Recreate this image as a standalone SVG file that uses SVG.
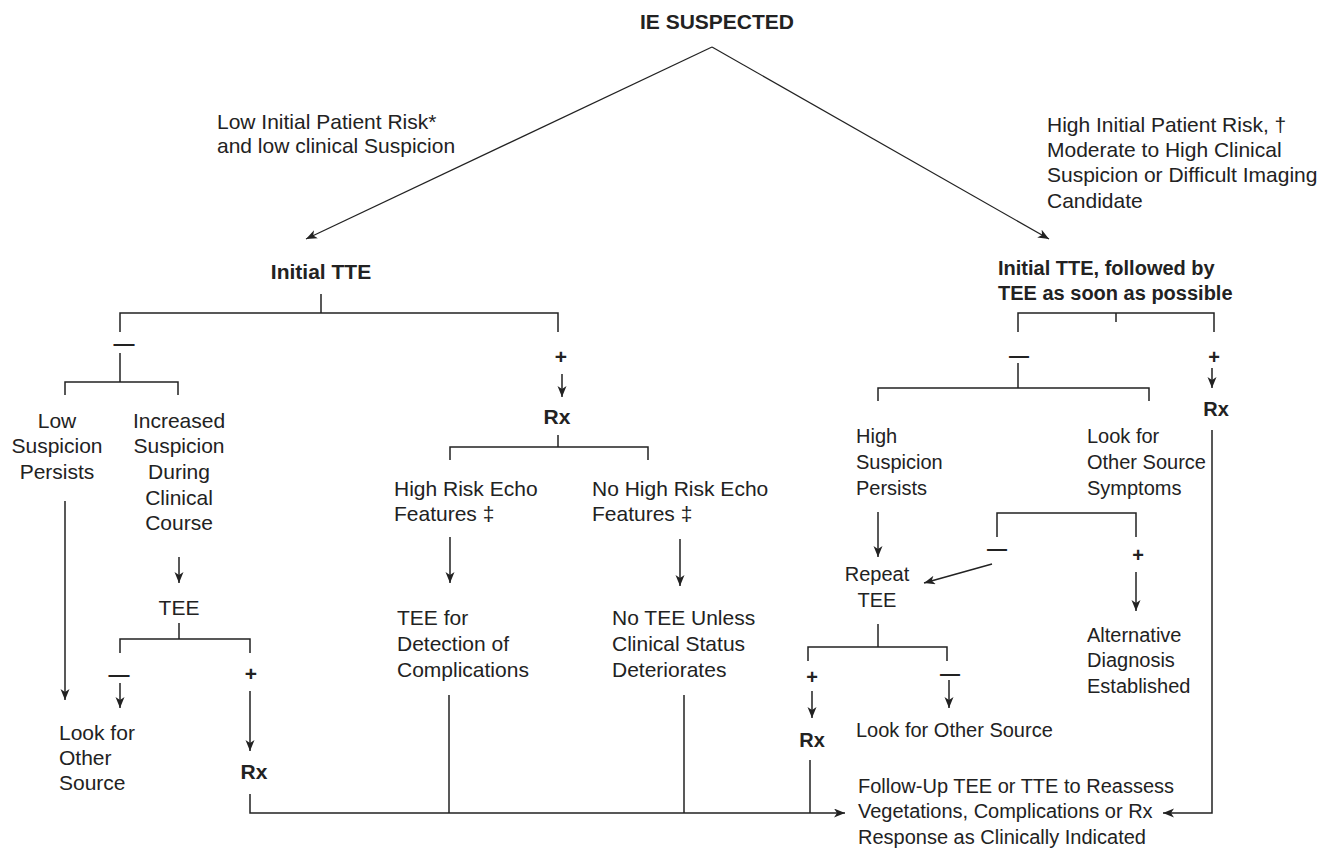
<svg xmlns="http://www.w3.org/2000/svg" width="1333" height="850" viewBox="0 0 1333 850">
  <defs>
    <marker id="arrow" markerUnits="userSpaceOnUse" markerWidth="12" markerHeight="10" refX="11" refY="4.5" orient="auto">
      <path d="M0,0 L11,4.5 L0,9 L3,4.5 Z" fill="#222"/>
    </marker>
    <style>
      text { font-family: "Liberation Sans", Arial, Helvetica, sans-serif; fill: #222; }
      .l { font-size: 21px; }
      .r { font-size: 20px; }
      .b { font-weight: bold; }
      .m { text-anchor: middle; }
      .sign { font-weight: bold; text-anchor: middle; }
      .conn path { fill: none; stroke: #222; stroke-width: 1.5; }
      .conn path.arr { marker-end: url(#arrow); }
      .conn path.thin { stroke-width: 1.2; }
    </style>
  </defs>

  <rect width="1333" height="850" fill="#fff"/>

  <!-- connectors -->
  <g id="connectors" class="conn">
    <path class="arr thin" d="M712,47 L306,239"/>
    <path class="arr thin" d="M712,47 L1049,239"/>

    <!-- left branch: initial TTE -->
    <path d="M321,294 V313"/>
    <path d="M120,332 V313 H558 V332"/>
    <path d="M120,353 V382"/>
    <path d="M65,395 V382 H178 V395"/>
    <path class="arr" d="M65,501 V700"/>
    <path class="arr" d="M179,557 V583"/>
    <path d="M179,623 V639"/>
    <path d="M120,653 V639 H250 V653"/>
    <path class="arr" d="M120,683 V708"/>
    <path class="arr" d="M250,691 V751"/>
    <path class="arr" d="M250,794 V813 H845"/>

    <!-- middle branch: positive TTE -->
    <path class="arr" d="M562,374 V397"/>
    <path d="M558,435 V447"/>
    <path d="M450,460 V447 H648 V460"/>
    <path class="arr" d="M450,537 V583"/>
    <path class="arr" d="M680,539 V586"/>
    <path d="M449,695 V813"/>
    <path d="M684,695 V813"/>

    <!-- right branch: TTE then TEE -->
    <path d="M1018,332 V313 H1214 V332"/>
    <path d="M1116,313 V322"/>
    <path d="M1018,363 V388"/>
    <path d="M878,401 V388 H1149 V401"/>
    <path class="arr" d="M1212,368 V388"/>
    <path class="arr" d="M1212,430 V813 H1163"/>
    <path class="arr" d="M878,512 V557"/>
    <path d="M997,537 V513 H1136 V537"/>
    <path class="arr" d="M992,564 L924,583"/>
    <path class="arr" d="M1136,572 V611"/>
    <path d="M878,624 V647"/>
    <path d="M808,661 V647 H947 V661"/>
    <path class="arr" d="M812,691 V718"/>
    <path class="arr" d="M949,680 V708"/>
    <path d="M810,760 V813"/>
  </g>

  <!-- nodes -->
  <g id="ie-suspected"><text class="l b m" x="717" y="29">IE SUSPECTED</text></g>

  <g id="low-risk-label">
    <text class="l" x="217" y="129">Low Initial Patient Risk*</text>
    <text class="l" x="217" y="153">and low clinical Suspicion</text>
  </g>

  <g id="high-risk-label">
    <text class="l" x="1047" y="132">High Initial Patient Risk, †</text>
    <text class="l" x="1047" y="157">Moderate to High Clinical</text>
    <text class="l" x="1047" y="182">Suspicion or Difficult Imaging</text>
    <text class="l" x="1047" y="208">Candidate</text>
  </g>

  <g id="initial-tte"><text class="l b m" x="321" y="279">Initial TTE</text></g>

  <g id="initial-tte-tee">
    <text class="r b" x="998" y="275">Initial TTE, followed by</text>
    <text class="r b" x="998" y="300">TEE as soon as possible</text>
  </g>

  <!-- left branch -->
  <g id="tte-neg"><text class="l sign" x="124" y="350">—</text></g>

  <g id="low-suspicion">
    <text class="l m" x="57" y="428">Low</text>
    <text class="l m" x="57" y="453">Suspicion</text>
    <text class="l m" x="57" y="479">Persists</text>
  </g>

  <g id="increased-suspicion">
    <text class="l m" x="179" y="428">Increased</text>
    <text class="l m" x="179" y="453">Suspicion</text>
    <text class="l m" x="179" y="479">During</text>
    <text class="l m" x="179" y="505">Clinical</text>
    <text class="l m" x="179" y="530">Course</text>
  </g>

  <g id="tee-left"><text class="l m" x="179" y="615">TEE</text></g>

  <g id="tee-left-neg"><text class="l sign" x="119" y="681">—</text></g>
  <g id="tee-left-pos"><text class="l sign" x="251" y="681">+</text></g>

  <g id="look-other-left">
    <text class="l" x="59" y="740">Look for</text>
    <text class="l" x="59" y="765">Other</text>
    <text class="l" x="59" y="790">Source</text>
  </g>

  <g id="rx-left"><text class="l b m" x="254" y="779">Rx</text></g>

  <!-- middle branch -->
  <g id="tte-pos"><text class="l sign" x="561" y="364">+</text></g>
  <g id="rx-mid"><text class="l b m" x="557" y="424">Rx</text></g>

  <g id="high-risk-echo">
    <text class="l" x="394" y="496">High Risk Echo</text>
    <text class="l" x="394" y="521">Features ‡</text>
  </g>

  <g id="no-high-risk-echo">
    <text class="l" x="592" y="496">No High Risk Echo</text>
    <text class="l" x="592" y="521">Features ‡</text>
  </g>

  <g id="tee-complications">
    <text class="l" x="397" y="625">TEE for</text>
    <text class="l" x="397" y="651">Detection of</text>
    <text class="l" x="397" y="677">Complications</text>
  </g>

  <g id="no-tee">
    <text class="l" x="612" y="625">No TEE Unless</text>
    <text class="l" x="612" y="651">Clinical Status</text>
    <text class="l" x="612" y="677">Deteriorates</text>
  </g>

  <!-- right branch -->
  <g id="tee-neg"><text class="r sign" x="1019" y="362">—</text></g>
  <g id="tee-pos"><text class="r sign" x="1214" y="364">+</text></g>
  <g id="rx-right"><text class="r b m" x="1216" y="416">Rx</text></g>

  <g id="high-suspicion">
    <text class="r" x="856" y="443">High</text>
    <text class="r" x="856" y="469">Suspicion</text>
    <text class="r" x="856" y="495">Persists</text>
  </g>

  <g id="other-source-symptoms">
    <text class="r" x="1087" y="443">Look for</text>
    <text class="r" x="1087" y="469">Other Source</text>
    <text class="r" x="1087" y="495">Symptoms</text>
  </g>

  <g id="symptoms-neg"><text class="r sign" x="997" y="555">—</text></g>
  <g id="symptoms-pos"><text class="r sign" x="1138" y="562">+</text></g>

  <g id="repeat-tee">
    <text class="r m" x="877" y="581">Repeat</text>
    <text class="r m" x="877" y="607">TEE</text>
  </g>

  <g id="alternative-diagnosis">
    <text class="r" x="1087" y="642">Alternative</text>
    <text class="r" x="1087" y="667">Diagnosis</text>
    <text class="r" x="1087" y="693">Established</text>
  </g>

  <g id="repeat-pos"><text class="r sign" x="812" y="684">+</text></g>
  <g id="repeat-neg"><text class="r sign" x="950" y="680">—</text></g>
  <g id="rx-repeat"><text class="r b m" x="812" y="747">Rx</text></g>

  <g id="look-other-right"><text class="r" x="856" y="737">Look for Other Source</text></g>

  <g id="follow-up">
    <text class="r" x="858" y="793">Follow-Up TEE or TTE to Reassess</text>
    <text class="r" x="858" y="818">Vegetations, Complications or Rx</text>
    <text class="r" x="858" y="844">Response as Clinically Indicated</text>
  </g>
</svg>
